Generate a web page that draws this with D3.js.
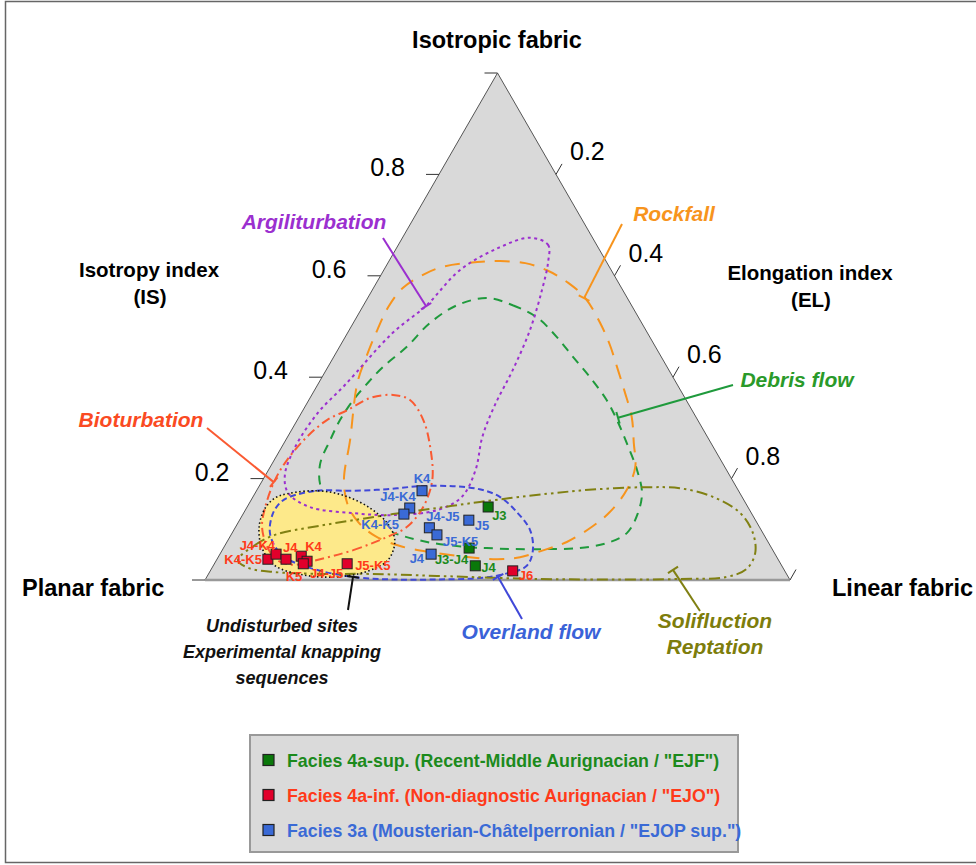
<!DOCTYPE html>
<html>
<head>
<meta charset="utf-8">
<script src="https://cdn.jsdelivr.net/npm/d3@7"></script>
<style>
  body { margin: 0; background: #fff; }
  svg { display: block; font-family: "Liberation Sans", Arial, sans-serif; }
</style>
</head>
<body>
<svg id="chart"></svg>
<script>
(function () {
    'use strict';

    // ---- data: values are [EL, IS] ----
    const tickValues = [0.2, 0.4, 0.6, 0.8];
    const cornerNames = ['Isotropic fabric', 'Planar fabric', 'Linear fabric'];

    const faciesNames = [
        'Facies 4a-sup. (Recent-Middle Aurignacian / "EJF")',
        'Facies 4a-inf. (Non-diagnostic Aurignacian / "EJO")',
        'Facies 3a (Mousterian-Châtelperronian / "EJOP sup.")'
    ];

    const ejf = [
        { name: 'J3', el: 0.412, is: 0.144 },
        { name: 'J3-J4', el: 0.420, is: 0.063 },
        { name: 'J4', el: 0.448, is: 0.028 }
    ];
    const ejo = [
        { name: 'K4-K5', el: 0.087, is: 0.041 },
        { name: 'J4-K4', el: 0.096, is: 0.051 },
        { name: 'J4', el: 0.118, is: 0.041 },
        { name: 'K4', el: 0.141, is: 0.047 },
        { name: 'J4-J5', el: 0.156, is: 0.037 },
        { name: 'K5', el: 0.152, is: 0.032 },
        { name: 'J5-K5', el: 0.227, is: 0.032 },
        { name: 'J6', el: 0.517, is: 0.018 }
    ];
    const ejop = [
        { name: 'K4', el: 0.283, is: 0.176 },
        { name: 'J4-K4', el: 0.279, is: 0.142 },
        { name: 'K4-K5', el: 0.275, is: 0.130 },
        { name: 'J4-J5', el: 0.332, is: 0.103 },
        { name: 'J5-K5', el: 0.352, is: 0.089 },
        { name: 'J5', el: 0.392, is: 0.118 },
        { name: 'J4', el: 0.361, is: 0.051 }
    ];

    const debrisFlow = [
        [0.204, 0.556], [0.255, 0.542], [0.310, 0.517], [0.362, 0.479], [0.409, 0.440],
        [0.458, 0.400], [0.509, 0.355], [0.546, 0.316], [0.586, 0.270], [0.630, 0.217],
        [0.661, 0.172], [0.674, 0.132], [0.675, 0.093], [0.651, 0.073], [0.609, 0.063],
        [0.554, 0.061], [0.496, 0.061], [0.450, 0.063], [0.415, 0.065], [0.342, 0.075],
        [0.269, 0.095], [0.172, 0.134], [0.111, 0.178], [0.083, 0.227], [0.076, 0.276],
        [0.073, 0.316], [0.076, 0.355], [0.084, 0.389], [0.094, 0.420], [0.115, 0.460],
        [0.131, 0.507], [0.160, 0.542]
    ];
    const undisturbed = [
        [0.055, 0.170], [0.105, 0.176], [0.156, 0.166], [0.211, 0.142], [0.258, 0.110],
        [0.286, 0.077], [0.293, 0.039], [0.266, 0.016], [0.219, 0.006], [0.163, 0.010],
        [0.106, 0.028], [0.066, 0.063], [0.040, 0.105], [0.032, 0.142], [0.039, 0.162]
    ];
    const rockfall = [
        [0.066, 0.389], [0.110, 0.276], [0.139, 0.197], [0.170, 0.148], [0.205, 0.114],
        [0.247, 0.087], [0.300, 0.067], [0.357, 0.055], [0.430, 0.045], [0.479, 0.041],
        [0.516, 0.045], [0.554, 0.061], [0.581, 0.075], [0.609, 0.105], [0.625, 0.134],
        [0.632, 0.178], [0.624, 0.223], [0.598, 0.270], [0.569, 0.321], [0.532, 0.371],
        [0.499, 0.414], [0.460, 0.464], [0.422, 0.507], [0.372, 0.556], [0.328, 0.586],
        [0.279, 0.611], [0.235, 0.625], [0.190, 0.629], [0.152, 0.627], [0.101, 0.619],
        [0.074, 0.604], [0.050, 0.576], [0.044, 0.538], [0.048, 0.493], [0.055, 0.444]
    ];
    const argiliturbation = [
        [0.218, 0.675], [0.256, 0.661], [0.273, 0.627], [0.290, 0.572], [0.309, 0.493],
        [0.319, 0.414], [0.323, 0.345], [0.333, 0.282], [0.354, 0.217], [0.357, 0.164],
        [0.328, 0.138], [0.257, 0.128], [0.187, 0.132], [0.107, 0.144], [0.056, 0.172],
        [0.033, 0.207], [0.023, 0.262], [0.028, 0.329], [0.047, 0.385], [0.077, 0.487],
        [0.108, 0.542], [0.130, 0.611], [0.174, 0.655]
    ];
    const bioturbation = [
        [0.161, 0.036], [0.224, 0.059], [0.269, 0.085], [0.293, 0.105], [0.301, 0.144],
        [0.290, 0.197], [0.254, 0.262], [0.215, 0.316], [0.173, 0.355], [0.139, 0.365],
        [0.103, 0.359], [0.076, 0.335], [0.051, 0.316], [0.033, 0.282], [0.022, 0.237],
        [0.021, 0.197], [0.031, 0.144], [0.045, 0.105], [0.074, 0.065], [0.104, 0.039],
        [0.135, 0.030]
    ];
    const overlandFlow = [
        [0.063, 0.164], [0.103, 0.176], [0.165, 0.176], [0.221, 0.179], [0.275, 0.185],
        [0.331, 0.185], [0.380, 0.179], [0.422, 0.164], [0.466, 0.134], [0.506, 0.099],
        [0.531, 0.059], [0.536, 0.028], [0.507, 0.012], [0.468, 0.004], [0.397, 0.001],
        [0.321, 0.001], [0.250, 0.006], [0.167, 0.024], [0.107, 0.049], [0.067, 0.089],
        [0.051, 0.128], [0.052, 0.152]
    ];
    const solifluction = [
        [0.037, 0.039], [0.051, 0.069], [0.075, 0.089], [0.143, 0.107], [0.205, 0.120],
        [0.256, 0.130], [0.326, 0.142], [0.393, 0.154], [0.500, 0.170], [0.580, 0.179],
        [0.664, 0.183], [0.721, 0.181], [0.786, 0.164], [0.849, 0.132], [0.890, 0.093],
        [0.914, 0.053], [0.915, 0.022], [0.889, 0.006], [0.811, 0.002], [0.697, 0.001],
        [0.572, 0.002], [0.393, 0.008], [0.276, 0.012], [0.191, 0.012], [0.108, 0.016],
        [0.062, 0.024]
    ];

    // ---- layout ----
    const width = 976;
    const height = 865;
    const tri = { left: 205, right: 790, top: 73, bottom: 580 };

    const x = d3.scaleLinear().domain([0, 1]).range([tri.left, tri.right]);
    const y = d3.scaleLinear().domain([0, 1]).range([tri.bottom, tri.top]);
    const px = (el, is) => x(el + is / 2);
    const py = (el, is) => y(is);

    const svg = d3.select('#chart')
        .attr('width', width)
        .attr('height', height)
        .attr('viewBox', [0, 0, width, height]);

    svg.append('rect')
        .attr('x', 5.5).attr('y', 1.5)
        .attr('width', width + 10).attr('height', height - 4)
        .attr('fill', '#fff').attr('stroke', '#666').attr('stroke-width', 1.5);

    // triangle
    const corners = [[0, 1], [0, 0], [1, 0]];
    svg.append('path')
        .attr('d', d3.line()(corners.map(c => [px(c[0], c[1]), py(c[0], c[1])])) + 'Z')
        .attr('fill', '#d9d9d9')
        .attr('stroke', '#555')
        .attr('stroke-width', 1);
    svg.append('line')
        .attr('x1', px(0, 0)).attr('y1', py(0, 0))
        .attr('x2', px(1, 0)).attr('y2', py(1, 0))
        .attr('stroke', '#999').attr('stroke-width', 2.5);

    // ticks
    const axisG = svg.append('g').attr('stroke', '#333').attr('stroke-width', 1);
    [0].concat(tickValues, [1]).forEach(v => {
        axisG.append('line')
            .attr('x1', px(0, v)).attr('y1', py(0, v))
            .attr('x2', px(0, v) - 13).attr('y2', py(0, v));
    });
    tickValues.concat([1]).forEach(v => {
        axisG.append('line')
            .attr('x1', px(v, 1 - v)).attr('y1', py(v, 1 - v))
            .attr('x2', px(v, 1 - v) + 6).attr('y2', py(v, 1 - v) - 10.5);
    });
    const tickFmt = d3.format('.1f');
    tickValues.forEach(v => {
        svg.append('text')
            .attr('x', px(0, v) - 34).attr('y', py(0, v) + 2)
            .attr('text-anchor', 'end')
            .attr('font-size', 25)
            .text(tickFmt(v));
        svg.append('text')
            .attr('x', px(v, 1 - v) + 14).attr('y', py(v, 1 - v) - 14)
            .attr('font-size', 25)
            .text(tickFmt(v));
    });

    // axis titles
    const bold = (t, xx, yy, size, anchor) => svg.append('text')
        .attr('x', xx).attr('y', yy)
        .attr('font-size', size).attr('font-weight', 'bold')
        .attr('text-anchor', anchor || 'middle')
        .text(t);
    bold(cornerNames[0], 497, 48, 23.5);
    bold(cornerNames[1], 22, 596, 23.5, 'start');
    bold(cornerNames[2], 832, 596, 23.5, 'start');
    bold('Isotropy index', 149, 277, 20.5);
    bold('(IS)', 150, 304, 20.5);
    bold('Elongation index', 810, 280, 20.5);
    bold('(EL)', 811, 307, 20.5);

    // contours
    const contour = d3.line()
        .x(d => px(d[0], d[1]))
        .y(d => py(d[0], d[1]))
        .curve(d3.curveCatmullRomClosed.alpha(0.5));

    const drawContour = (data, color, dash, w) => svg.append('path')
        .attr('d', contour(data))
        .attr('fill', 'none')
        .attr('stroke', color)
        .attr('stroke-width', w || 2)
        .attr('stroke-dasharray', dash);

    drawContour(debrisFlow, '#1f9a3c', '9,7');
    svg.append('path')
        .attr('d', contour(undisturbed))
        .attr('fill', '#fde98a');
    drawContour(rockfall, '#f7941d', '15,10');
    drawContour(argiliturbation, '#9b2fcf', '3,3.5');
    drawContour(bioturbation, '#fa5a32', '9,4,2,4');
    drawContour(overlandFlow, '#4048d8', '6,3.5');
    drawContour(solifluction, '#808012', '11,4,2.5,4,2.5,4');
    drawContour(undisturbed, '#111', '1.5,2.5', 1.6);

    // leader lines: label anchor in pixels, tip on the contour in [EL, IS]
    const leaders = [
        { color: '#9b2fcf', from: [383, 238], tip: [0.108, 0.540] },
        { color: '#f7941d', from: [622, 224], tip: [0.370, 0.556] },
        { color: '#1f9a3c', from: [733, 385], tip: [0.546, 0.320] },
        { color: '#fa5a32', from: [207, 428], tip: [0.021, 0.193] },
        { color: '#111', from: [348, 610], tip: [0.250, 0.006] },
        { color: '#4048d8', from: [522, 619], tip: [0.498, 0.006] },
        { color: '#808012', from: [700, 611], tip: [0.790, 0.020] }
    ];
    leaders.forEach(l => {
        const tx = px(l.tip[0], l.tip[1]);
        const ty = py(l.tip[0], l.tip[1]);
        svg.append('line')
            .attr('x1', l.from[0]).attr('y1', l.from[1])
            .attr('x2', tx).attr('y2', ty)
            .attr('stroke', l.color).attr('stroke-width', 2);
        const dx = tx - l.from[0], dy = ty - l.from[1];
        const len = Math.hypot(dx, dy);
        const nx = -dy / len * 6, ny = dx / len * 6;
        svg.append('line')
            .attr('x1', tx - nx).attr('y1', ty - ny)
            .attr('x2', tx + nx).attr('y2', ty + ny)
            .attr('stroke', l.color).attr('stroke-width', 2);
    });

    const italic = (lines, xx, yy, color, size, anchor) => lines.forEach((t, i) => svg.append('text')
        .attr('x', xx).attr('y', yy + i * 26)
        .attr('font-size', size).attr('font-weight', 'bold').attr('font-style', 'italic')
        .attr('fill', color).attr('text-anchor', anchor || 'middle')
        .text(t));
    italic(['Argiliturbation'], 314, 229, '#9b2fcf', 21);
    italic(['Rockfall'], 674, 221, '#f7941d', 21);
    italic(['Debris flow'], 797, 387, '#2a9a2a', 21);
    italic(['Bioturbation'], 141, 427, '#fa4a22', 21);
    italic(['Undisturbed sites', 'Experimental knapping', 'sequences'], 282, 632, '#111', 18);
    italic(['Overland flow'], 531, 639, '#3a62d8', 21);
    italic(['Solifluction', 'Reptation'], 715, 628, '#7d7d0c', 21);

    // samples
    const placement = {
        ejf: { 'J3': [4, 13, 'start'], 'J3-J4': [-1, 16, 'end'], 'J4': [6, 6, 'start'] },
        ejo: {
            'K4-K5': [-6, 5, 'end'], 'J4-K4': [-1, -4, 'end'], 'J4': [-3, -7, 'start'],
            'K4': [4, -5, 'start'], 'J4-J5': [3, 17, 'start'], 'K5': [-1, 17, 'end'],
            'J5-K5': [8, 6, 'start'], 'J6': [6, 9, 'start']
        },
        ejop: {
            'K4': [0, -8, 'middle'], 'J4-K4': [6, -7, 'end'], 'K4-K5': [-5, 15, 'end'],
            'J4-J5': [-3, -7, 'start'], 'J5-K5': [6, 11, 'start'], 'J5': [6, 10, 'start'],
            'J4': [-7, 9, 'end']
        }
    };
    const series = [
        { key: 'ejf', data: ejf, fill: '#0a780a', text: '#1c8a1c' },
        { key: 'ejo', data: ejo, fill: '#e1002b', text: '#ff3a1a' },
        { key: 'ejop', data: ejop, fill: '#3a6ad6', text: '#3a6ad6' }
    ];
    const s = 10;
    series.forEach(sr => {
        const g = svg.append('g');
        g.selectAll('rect').data(sr.data).join('rect')
            .attr('x', d => px(d.el, d.is) - s / 2)
            .attr('y', d => py(d.el, d.is) - s / 2)
            .attr('width', s).attr('height', s)
            .attr('fill', sr.fill)
            .attr('stroke', '#222').attr('stroke-width', 1);
        g.selectAll('text').data(sr.data).join('text')
            .attr('x', d => px(d.el, d.is) + placement[sr.key][d.name][0])
            .attr('y', d => py(d.el, d.is) + placement[sr.key][d.name][1])
            .attr('text-anchor', d => placement[sr.key][d.name][2])
            .attr('font-size', 13).attr('font-weight', 'bold')
            .attr('fill', sr.text)
            .text(d => d.name);
    });

    // legend
    const legend = svg.append('g');
    legend.append('rect')
        .attr('x', 250).attr('y', 735).attr('width', 488).attr('height', 117)
        .attr('fill', '#dadada').attr('stroke', '#999').attr('stroke-width', 2);
    series.forEach((sr, i) => {
        const ly = 760 + i * 35;
        legend.append('rect')
            .attr('x', 263).attr('y', ly - 5.5).attr('width', 11).attr('height', 11)
            .attr('fill', sr.fill).attr('stroke', '#222').attr('stroke-width', 1.2);
        legend.append('text')
            .attr('x', 287).attr('y', ly + 6.5)
            .attr('font-size', 17.8).attr('font-weight', 'bold')
            .attr('fill', sr.text)
            .text(faciesNames[i]);
    });
})();
</script>
</body>
</html>
